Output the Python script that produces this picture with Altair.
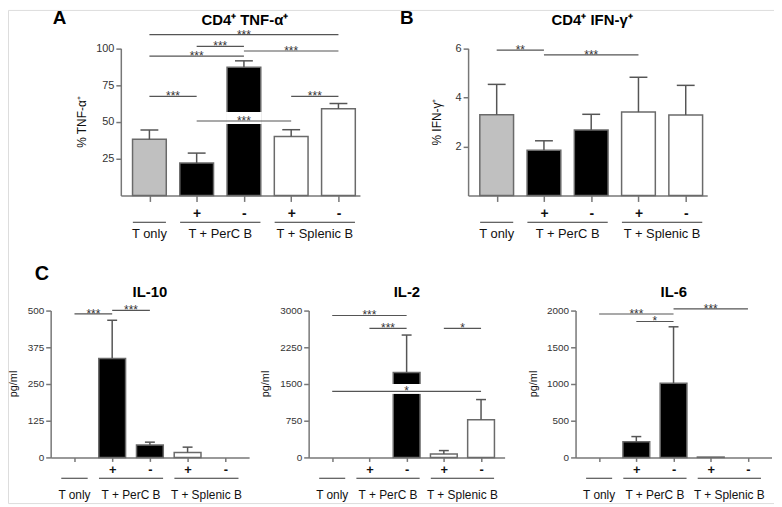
import json
import altair as alt
import pandas as pd

FONT = "Liberation Sans"
W, H = 772, 497
AX = "#777777"

# ---------------- data ----------------
categories = ["T only", "T + PerC B +", "T + PerC B -", "T + Splenic B +", "T + Splenic B -"]
signs = ["", "+", "-", "+", "-"]
bar_groups = ["T only", "PerC B", "PerC B", "Splenic B", "Splenic B"]
group_names = ["T only", "T + PerC B", "T + Splenic B"]
group_of_bar = [0, 1, 1, 2, 2]
fill_domain = ["T only", "PerC B", "Splenic B"]
fill_range = ["#c0c0c0", "#000000", "#ffffff"]

# A: CD4+ TNF-a+
tnf_mean = [38.2, 22.0, 87.2, 40.0, 58.9]
tnf_sem = [6.3, 6.8, 4.3, 4.7, 3.6]
tnf_sig = [(0, 4, 109.3, "***"), (1, 2, 101.3, "***"), (0, 2, 94.7, "***"),
           (2, 4, 98.2, "***"), (0, 1, 67.4, "***"), (3, 4, 67.4, "***"),
           (1, 3, 50.6, "***")]
tnf_ticks = [25, 50, 75, 100]

# B: CD4+ IFN-g+
ifn_mean = [3.29, 1.84, 2.67, 3.40, 3.28]
ifn_sem = [1.24, 0.39, 0.64, 1.42, 1.21]
ifn_sig = [(0, 1, 5.93, "**"), (1, 3, 5.73, "***")]
ifn_ticks = [2, 4, 6]

# C: IL-10
il10_mean = [0, 337, 42, 17, 0]
il10_sem = [0, 130, 10, 18, 0]
il10_sig = [(0, 1, 489, "***"), (1, 2, 501, "***")]
il10_ticks = [0, 125, 250, 375, 500]

# C: IL-2
il2_mean = [0, 0, 1736, 70, 772]
il2_sem = [0, 0, 764, 70, 410]
il2_sig = [(0, 2, 2899, "***"), (1, 2, 2635, "***"), (3, 4, 2635, "*"), (0, 4, 1348, "*")]
il2_ticks = [0, 750, 1500, 2250, 3000]

# C: IL-6
il6_mean = [0, 212, 1009, 5, 0]
il6_sem = [0, 72, 770, 0, 0]
il6_sig = [(0, 2, 1953, "***"), (1, 2, 1851, "*"), (2, 4, 2023, "***")]
il6_ticks = [0, 500, 1000, 1500, 2000]


def text_layer(txt, x, y, size, weight="normal", angle=0, align="center", baseline="middle", color="#111111"):
    return alt.Chart(pd.DataFrame({"t": [txt]})).mark_text(
        fontSize=size, fontWeight=weight, angle=angle, align=align, baseline=baseline,
        color=color, font=FONT
    ).encode(text="t:N", x=alt.value(x), y=alt.value(y))


def make_panel(mean, sem, sig, y_domain, y_ticks, x_domain, x_px, y_px,
               bar_w, cap_w, mask_w, mask_off, x_tick, x_pad, sign_size, y_lab_size,
               group_line_y, group_text_y, group_size, extras):
    n = len(categories)
    bars_df = pd.DataFrame({
        "idx": list(range(n)), "category": categories, "fill_group": bar_groups,
        "mean": mean, "sem": sem, "top": [m + s for m, s in zip(mean, sem)],
    })
    sig_df = pd.DataFrame({
        "x1": [s[0] for s in sig], "x2": [s[1] for s in sig],
        "level": [s[2] for s in sig], "label": [s[3] for s in sig],
    })
    sig_df["mid"] = (sig_df["x1"] + sig_df["x2"]) / 2
    g_start, g_end = [], []
    for gi in range(len(group_names)):
        members = [i for i, g in enumerate(group_of_bar) if g == gi]
        g_start.append(min(members) - 0.35)
        g_end.append(max(members) + 0.35)
    grp_df = pd.DataFrame({"name": group_names, "start": g_start, "end": g_end})
    grp_df["mid"] = (grp_df["start"] + grp_df["end"]) / 2

    xs = alt.Scale(domain=x_domain, range=x_px, nice=False, zero=False)
    ys = alt.Scale(domain=y_domain, range=y_px, nice=False, zero=False)
    xa = alt.Axis(orient="bottom", offset=y_px[0] - H, values=list(range(n)),
                  labelExpr=json.dumps(signs) + "[datum.value]", title=None, grid=False,
                  tickSize=x_tick, tickColor=AX, tickWidth=1.5, domainColor=AX, domainWidth=1.5,
                  labelPadding=x_pad, labelFontSize=sign_size, labelFontWeight="bold",
                  labelColor="#111111", labelFlush=False, labelOverlap=False, labelFont=FONT)
    ya = alt.Axis(orient="left", offset=-x_px[0], values=y_ticks, title=None, grid=False,
                  format="d", tickSize=5, tickColor=AX, tickWidth=1.5, domainColor=AX,
                  domainWidth=1.5, labelPadding=2, labelFontSize=y_lab_size, labelColor="#333333",
                  labelFlush=False, labelOverlap=False, labelFont=FONT)

    def X(f):
        return alt.X(f, type="quantitative", scale=xs, axis=xa)

    def Y(f):
        return alt.Y(f, type="quantitative", scale=ys, axis=ya)

    fill = alt.Fill("fill_group:N", scale=alt.Scale(domain=fill_domain, range=fill_range), legend=None)

    bars = alt.Chart(bars_df).transform_filter("datum.mean > 0").mark_bar(
        size=bar_w, stroke="#6a6a6a", strokeWidth=1.5
    ).encode(x=X("idx"), y=Y("mean"), fill=fill)

    masks = alt.Chart(sig_df).mark_bar(
        size=mask_w, color="white", yOffset=mask_off[0], y2Offset=mask_off[1]
    ).encode(x=X("mid"), y=Y("level"), y2="level:Q")

    err_df = alt.Chart(bars_df).transform_filter("datum.sem > 0")
    stems = err_df.mark_rule(color="#555555", strokeWidth=1.5).encode(
        x=X("idx"), y=Y("mean"), y2="top:Q")
    caps = err_df.mark_rule(color="#555555", strokeWidth=1.5,
                            xOffset=-cap_w / 2, x2Offset=cap_w / 2).encode(
        x=X("idx"), x2="idx:Q", y=Y("top"))

    sig_lines = alt.Chart(sig_df).mark_rule(color="#555555", strokeWidth=1.2).encode(
        x=X("x1"), x2="x2:Q", y=Y("level"))
    sig_text = alt.Chart(sig_df).mark_text(
        fontSize=12, baseline="alphabetic", dy=4, color="#333333", font=FONT
    ).encode(x=X("mid"), y=Y("level"), text="label:N")

    grp_lines = alt.Chart(grp_df).mark_rule(color="#333333", strokeWidth=1).encode(
        x=X("start"), x2="end:Q", y=alt.value(group_line_y))
    grp_text = alt.Chart(grp_df).mark_text(
        fontSize=group_size, baseline="middle", color="#111111", font=FONT
    ).encode(x=X("mid"), y=alt.value(group_text_y), text="name:N")

    layers = [bars, masks, stems, caps, sig_lines, sig_text, grp_lines, grp_text] + extras
    return alt.layer(*layers)


top_common = dict(x_domain=[-0.5, 4.35], y_px=[187, 38.7], bar_w=34, cap_w=18, mask_w=36,
                  mask_off=(3, -9), x_tick=6, x_pad=5, sign_size=14, y_lab_size=11,
                  group_line_y=214, group_text_y=226, group_size=13)
bot_common = dict(x_domain=[-0.5, 4.5], y_px=[451, 303], bar_w=27, cap_w=10, mask_w=30,
                  mask_off=(2.5, -7.5), x_tick=4, x_pad=2, sign_size=13, y_lab_size=10,
                  group_line_y=472, group_text_y=489, group_size=12)

pA = make_panel(tnf_mean, tnf_sem, tnf_sig, [0, 100], tnf_ticks, x_px=[113.7, 354.7],
                extras=[text_layer("A", 45, 14.5, 19, "bold", align="left", baseline="alphabetic", color="black"),
                        text_layer("CD4⁺ TNF-α⁺", 238.7, 15, 15, "bold", baseline="alphabetic", color="black"),
                        text_layer("% TNF-α⁺", 75, 113, 12, angle=270)],
                **top_common)
pB = make_panel(ifn_mean, ifn_sem, ifn_sig, [0, 6], ifn_ticks, x_px=[463.7, 704.7],
                extras=[text_layer("B", 395, 14.5, 19, "bold", align="left", baseline="alphabetic", color="black"),
                        text_layer("CD4⁺ IFN-γ⁺", 588.7, 15, 15, "bold", baseline="alphabetic", color="black"),
                        text_layer("% IFN-γ⁺", 432, 113, 12, angle=270)],
                **top_common)
p10 = make_panel(il10_mean, il10_sem, il10_sig, [0, 500], il10_ticks, x_px=[43, 243],
                 extras=[text_layer("C", 27, 272, 20, "bold", align="left", baseline="alphabetic", color="black"),
                         text_layer("IL-10", 143, 289, 15, "bold", baseline="alphabetic", color="black"),
                         text_layer("pg/ml", 6, 377, 11, angle=270)],
                 **bot_common)
p2 = make_panel(il2_mean, il2_sem, il2_sig, [0, 3000], il2_ticks, x_px=[303, 500.5],
                extras=[text_layer("IL-2", 402, 289, 15, "bold", baseline="alphabetic", color="black"),
                        text_layer("pg/ml", 260, 377, 11, angle=270)],
                **bot_common)
p6 = make_panel(il6_mean, il6_sem, il6_sig, [0, 2000], il6_ticks, x_px=[572, 769.5],
                extras=[text_layer("IL-6", 671, 289, 15, "bold", baseline="alphabetic", color="black"),
                        text_layer("pg/ml", 530, 377, 11, angle=270)],
                **bot_common)

chart = alt.layer(pA, pB, p10, p2, p6).resolve_scale(
    x="independent", y="independent"
).properties(
    width=W, height=H, autosize=alt.AutoSizeParams(type="none"), padding=0
).configure_view(strokeWidth=0).configure(font=FONT)

chart.save("out.html", embed_options={"renderer": "svg", "actions": False})
